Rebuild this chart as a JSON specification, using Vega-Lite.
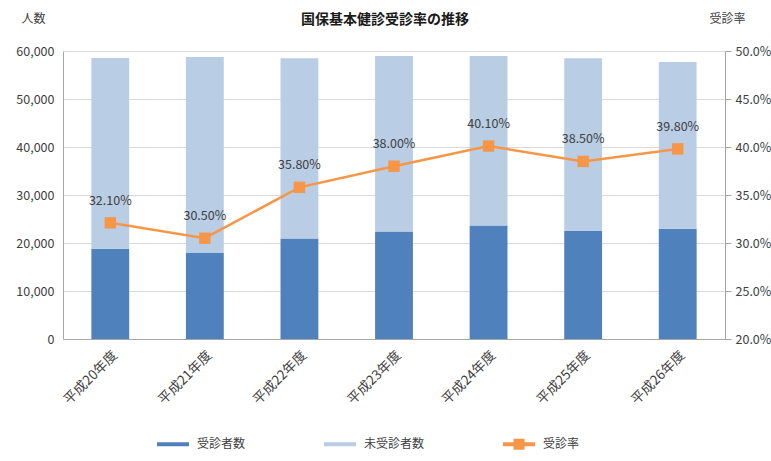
{
  "$schema": "https://vega.github.io/schema/vega-lite/v6.json",
  "autosize": {"type": "none"},
  "width": 662,
  "height": 288,
  "padding": {"left": 63, "top": 51, "right": 46, "bottom": 122},
  "background": "white",
  "title": {
    "text": "国保基本健診受診率の推移",
    "frame": "group",
    "anchor": "middle",
    "dx": -9,
    "offset": -15,
    "fontSize": 14,
    "fontWeight": "bold",
    "font": "Noto Sans CJK JP",
    "color": "#1a1a1a"
  },
  "datasets": {
    "counts": [
      {"year": "平成20年度", "series": "受診者数", "count": 18800},
      {"year": "平成20年度", "series": "未受診者数", "count": 39740},
      {"year": "平成21年度", "series": "受診者数", "count": 17900},
      {"year": "平成21年度", "series": "未受診者数", "count": 40850},
      {"year": "平成22年度", "series": "受診者数", "count": 20950},
      {"year": "平成22年度", "series": "未受診者数", "count": 37550},
      {"year": "平成23年度", "series": "受診者数", "count": 22400},
      {"year": "平成23年度", "series": "未受診者数", "count": 36560},
      {"year": "平成24年度", "series": "受診者数", "count": 23650},
      {"year": "平成24年度", "series": "未受診者数", "count": 35310},
      {"year": "平成25年度", "series": "受診者数", "count": 22500},
      {"year": "平成25年度", "series": "未受診者数", "count": 36000},
      {"year": "平成26年度", "series": "受診者数", "count": 22950},
      {"year": "平成26年度", "series": "未受診者数", "count": 34750}
    ],
    "rates": [
      {"year": "平成20年度", "series": "受診率", "rate": 0.321},
      {"year": "平成21年度", "series": "受診率", "rate": 0.305},
      {"year": "平成22年度", "series": "受診率", "rate": 0.358},
      {"year": "平成23年度", "series": "受診率", "rate": 0.380},
      {"year": "平成24年度", "series": "受診率", "rate": 0.401},
      {"year": "平成25年度", "series": "受診率", "rate": 0.385},
      {"year": "平成26年度", "series": "受診率", "rate": 0.398}
    ]
  },
  "encoding": {
    "x": {
      "field": "year",
      "type": "nominal",
      "sort": null,
      "title": null,
      "scale": {"paddingInner": 0.6, "paddingOuter": 0.3},
      "axis": {
        "labelAngle": -45,
        "labelFontSize": 13.5,
        "labelColor": "#404040",
        "labelFont": "Noto Sans CJK JP",
        "ticks": false,
        "labelPadding": 9,
        "domainColor": "#A6A6A6"
      }
    }
  },
  "layer": [
    {
      "data": {"name": "counts"},
      "transform": [{"calculate": "datum.series === '受診者数' ? 0 : 1", "as": "ord"}],
      "mark": {"type": "bar"},
      "encoding": {
        "y": {
          "field": "count",
          "type": "quantitative",
          "stack": "zero",
          "scale": {"domain": [0, 60000]},
          "axis": {
            "title": "人数",
            "titleAngle": 0,
            "titleX": -30,
            "titleY": -33,
            "titleAlign": "center",
            "titleBaseline": "middle",
            "titleFontWeight": "normal",
            "titleFontSize": 12,
            "titleFont": "Noto Sans CJK JP",
            "titleColor": "#404040",
            "values": [0, 10000, 20000, 30000, 40000, 50000, 60000],
            "format": ",.0f",
            "labelFontSize": 12.5,
            "labelColor": "#404040",
            "labelFont": "Noto Sans CJK JP",
            "ticks": false,
            "labelPadding": 9,
            "gridColor": "#D9D9D9",
            "domainColor": "#A6A6A6"
          }
        },
        "color": {
          "field": "series",
          "type": "nominal",
          "scale": {
            "domain": ["受診者数", "未受診者数", "受診率"],
            "range": ["#4F81BD", "#B9CDE5", "#F79646"]
          },
          "legend": {
            "title": null,
            "orient": "none",
            "direction": "horizontal",
            "legendX": 92,
            "legendY": 375,
            "symbolType": "stroke",
            "symbolSize": 1024,
            "symbolStrokeWidth": 4,
            "columnPadding": 70,
            "labelFontSize": 12,
            "labelFont": "Noto Sans CJK JP",
            "labelColor": "#404040",
            "labelOffset": 6,
            "encode": {
              "symbols": {
                "update": {
                  "shape": {"signal": "datum.value === '受診率' ? 'M-1,0H1M-0.22,-0.22H0.22V0.22H-0.22Z' : 'M-1,0H1M0,-0.22L0,-0.22M0,0.22L0,0.22'"},
                  "fill": {"signal": "datum.value === '受診率' ? '#F79646' : 'transparent'"}
                }
              }
            }
          }
        },
        "order": {"field": "ord", "type": "quantitative"}
      }
    },
    {
      "data": {"name": "rates"},
      "mark": {"type": "line", "color": "#F79646", "strokeWidth": 2.5},
      "encoding": {
        "y": {
          "field": "rate",
          "type": "quantitative",
          "scale": {"domain": [0.2, 0.5]},
          "axis": {
            "orient": "right",
            "title": "受診率",
            "titleAngle": 0,
            "titleX": 2,
            "titleY": -33,
            "titleAlign": "center",
            "titleBaseline": "middle",
            "titleFontWeight": "normal",
            "titleFontSize": 12,
            "titleFont": "Noto Sans CJK JP",
            "titleColor": "#404040",
            "values": [0.2, 0.25, 0.3, 0.35, 0.4, 0.45, 0.5],
            "format": ".1%",
            "labelFontSize": 12.5,
            "labelColor": "#404040",
            "labelFont": "Noto Sans CJK JP",
            "grid": false,
            "tickColor": "#A6A6A6",
            "tickSize": 6,
            "labelPadding": 4,
            "domainColor": "#A6A6A6"
          }
        },
        "color": {"field": "series", "type": "nominal"}
      }
    },
    {
      "data": {"name": "rates"},
      "mark": {"type": "point", "shape": "square", "filled": true, "size": 130, "opacity": 1, "color": "#F79646"},
      "encoding": {
        "y": {"field": "rate", "type": "quantitative", "axis": null, "scale": {"domain": [0.2, 0.5]}}
      }
    },
    {
      "data": {"name": "rates"},
      "mark": {"type": "text", "dy": -22, "fontSize": 12.5, "font": "Noto Sans CJK JP", "color": "#404040"},
      "encoding": {
        "y": {"field": "rate", "type": "quantitative", "axis": null, "scale": {"domain": [0.2, 0.5]}},
        "text": {"field": "rate", "type": "quantitative", "format": ".2%"}
      }
    }
  ],
  "resolve": {"scale": {"y": "independent"}},
  "config": {
    "view": {"stroke": null},
    "font": "Noto Sans CJK JP"
  }
}
